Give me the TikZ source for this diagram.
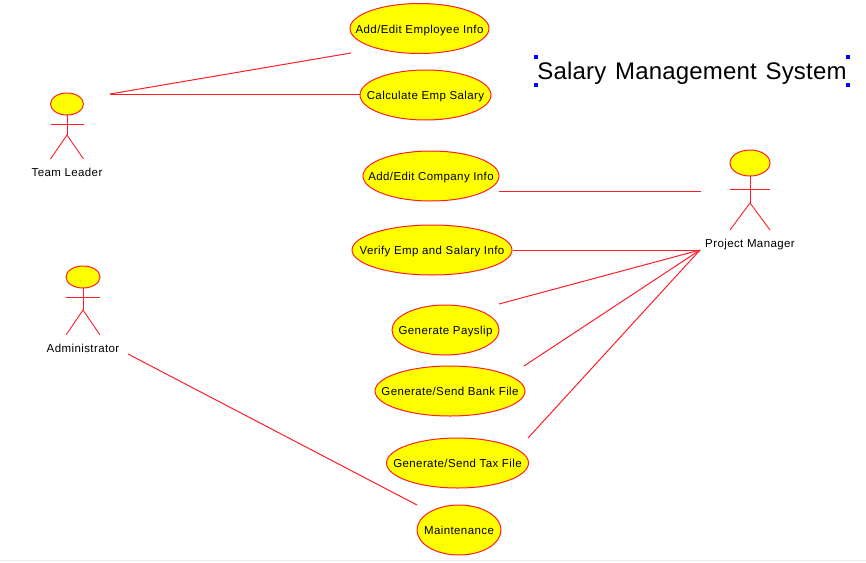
\documentclass[tikz,border=0pt]{standalone}
\usepackage{fontspec}
\setmainfont{Liberation Sans}[LetterSpace=3.5]
\newfontfamily\titlefont{Liberation Sans}[LetterSpace=0.7,WordSpace=1.3]
\definecolor{umlred}{RGB}{255,30,40}
\definecolor{umlyellow}{RGB}{255,255,0}
\tikzset{
  usecase/.style={draw=umlred,fill=umlyellow,line width=1pt},
  assoc/.style={draw=umlred,line width=1pt},
  limb/.style={draw=umlred,line width=0.9pt},
  actorname/.style={font=\fontsize{11.5}{13}\selectfont,inner sep=0pt,anchor=base},
  handle/.style={fill=blue,draw=none,minimum size=4pt,inner sep=0pt},
}
\newcommand{\ucase}[6]{\draw[usecase] (#2,#3) ellipse [x radius=#4,y radius=#5];
  \node[actorname] (#1) at (#2,#3+4.5) {#6};}
\newcommand{\actor}[8]{% name, cx, cy head, rx, ry, arm y, hip y, foot y
  \draw[usecase] (#2,#3) ellipse [x radius=#4,y radius=#5];
  \coordinate (#1neck) at (#2,#3+#5);
  \coordinate (#1hip) at (#2,#7);
  \coordinate (#1la) at (#2-#4,#6);
  \coordinate (#1ra) at (#2+#4,#6);
  \coordinate (#1lf) at (#2-#4,#8);
  \coordinate (#1rf) at (#2+#4,#8);
  \draw[limb] (#1neck) -- (#1hip);
  \draw[limb] (#1la) -- (#1ra);
  \draw[limb] (#1lf) -- (#1hip) -- (#1rf);}
\begin{document}
\begin{tikzpicture}[x=1pt,y=-1pt]
\useasboundingbox (0,0) rectangle (866,562);
\draw[black!8,line width=1pt] (0,560.5) -- (866,560.5);
\ucase{empinfo}{419.5}{28.5}{69.5}{25}{Add/Edit Employee Info}
\ucase{calc}{425.5}{95}{65.5}{25}{Calculate Emp Salary}
\ucase{company}{431}{176}{68}{25}{Add/Edit Company Info}
\ucase{verify}{432}{250}{80}{25}{Verify Emp and Salary Info}
\ucase{payslip}{445.5}{330}{53.5}{25}{Generate Payslip}
\ucase{bank}{450}{391}{75}{25}{Generate/Send Bank File}
\ucase{tax}{457.5}{463}{71}{25}{Generate/Send Tax File}
\ucase{maint}{459}{530}{42}{25}{Maintenance}
\actor{tl}{67}{104}{16.5}{11}{124}{135}{159}
\node[actorname] (tlname) at (67,176) {Team Leader};
\actor{pm}{750}{163}{20}{13}{189}{203}{230}
\node[actorname] (pmname) at (750,247) {Project Manager};
\actor{ad}{83}{277}{17}{11}{297}{310}{335}
\node[actorname] (adname) at (83,352) {Administrator};
\coordinate (tlout) at (110,94);
\coordinate (pmin) at (700,250);
\coordinate (e1) at (351,53);
\coordinate (e2) at (360,94);
\coordinate (c1) at (499,191);
\coordinate (c2) at (701,191);
\coordinate (v1) at (513,250);
\coordinate (p1) at (499,304);
\coordinate (b1) at (524,366);
\coordinate (t1) at (528,438);
\coordinate (a1) at (128,354);
\coordinate (m1) at (417,505);
\draw[assoc] (tlout) -- (e1);
\draw[assoc] (tlout) -- (e2);
\draw[assoc] (c1) -- (c2);
\draw[assoc] (v1) -- (pmin);
\draw[assoc] (p1) -- (pmin);
\draw[assoc] (b1) -- (pmin);
\draw[assoc] (t1) -- (pmin);
\draw[assoc] (a1) -- (m1);
\node[font=\titlefont\fontsize{24}{28}\selectfont,inner sep=0pt,anchor=base] (title) at (692,79) {Salary Management System};
\node[handle] (h1) at (536,57) {};
\node[handle] (h2) at (848,57) {};
\node[handle] (h3) at (536,85) {};
\node[handle] (h4) at (848,85) {};
\end{tikzpicture}
\end{document}
